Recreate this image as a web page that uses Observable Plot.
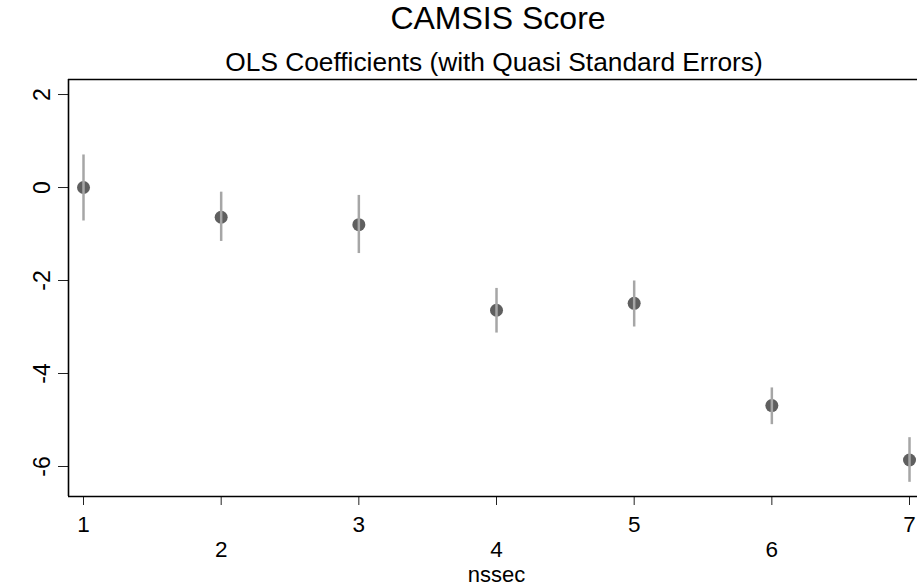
<!DOCTYPE html>
<html><head><meta charset="utf-8">
<script src="https://cdn.jsdelivr.net/npm/d3@7"></script>
<script src="https://cdn.jsdelivr.net/npm/@observablehq/plot@0.6"></script>
<style>
html,body{margin:0;padding:0;background:#fff;overflow:hidden}
#wrap{position:relative;width:917px;height:585px;font-family:"Liberation Sans",Arial,sans-serif}
#wrap svg{position:absolute;left:0;top:0}
.t{position:absolute;white-space:nowrap;transform:translateX(-50%);color:#000;line-height:1;font-family:"Liberation Sans",Arial,sans-serif}
</style></head><body>
<div id="wrap"></div>
<script>
const title = "CAMSIS Score";
const subtitle = "OLS Coefficients (with Quasi Standard Errors)";
const xLabel = "nssec";
const nssec = [1, 2, 3, 4, 5, 6, 7];
const coef = [0, -0.64, -0.80, -2.64, -2.49, -4.69, -5.86];
const ciLow = [-0.72, -1.16, -1.42, -3.13, -3.00, -5.10, -6.34];
const ciHigh = [0.70, -0.10, -0.17, -2.17, -2.01, -4.31, -5.38];
const yTicks = [-6, -4, -2, 0, 2];
const xTicksOdd = [1, 3, 5, 7];
const xTicksEven = [2, 4, 6];
const xTicks = [1, 2, 3, 4, 5, 6, 7];

const data = nssec.map((k, i) => ({nssec: k, coef: coef[i], lo: ciLow[i], hi: ciHigh[i]}));
const xDomain = [0.891, 7.058];
const yDomain = [-6.645, 2.323];
const fs = 22.5;

const chart = Plot.plot({
  width: 917,
  height: 585,
  marginLeft: 68,
  marginRight: 0,
  marginTop: 79,
  marginBottom: 89,
  style: {fontFamily: '"Liberation Sans", Arial, sans-serif', background: "transparent", overflow: "visible"},
  x: {domain: xDomain},
  y: {domain: yDomain},
  marks: [
    Plot.axisY({ticks: yTicks, tickSize: 10, tickFormat: () => "", label: null, stroke: "#222"}),
    Plot.axisX({ticks: xTicks, tickSize: 9, tickFormat: () => "", label: null, stroke: "#222"}),
    Plot.text(yTicks, {frameAnchor: "left", y: d => d, text: d => String(d), rotate: -90, dx: -19,
      textAnchor: "middle", lineAnchor: "bottom", fontSize: 23, fill: "#000"}),
    Plot.text(xTicksOdd, {frameAnchor: "bottom", x: d => d, text: d => String(d), dy: 35,
      textAnchor: "middle", lineAnchor: "bottom", fontSize: fs, fill: "#000"}),
    Plot.text(xTicksEven, {frameAnchor: "bottom", x: d => d, text: d => String(d), dy: 60,
      textAnchor: "middle", lineAnchor: "bottom", fontSize: fs, fill: "#000"}),
    Plot.text([xLabel], {frameAnchor: "bottom", x: () => 4, text: d => d, dy: 85,
      textAnchor: "middle", lineAnchor: "bottom", fontSize: 22, fill: "#000"}),
    Plot.ruleX([xDomain[0]], {stroke: "#000", strokeWidth: 1.6}),
    Plot.ruleY([yDomain[0], yDomain[1]], {stroke: "#000", strokeWidth: 1.6}),
    Plot.dot(data, {x: "nssec", y: "coef", r: 6.5, fill: "#5f5f5f", stroke: "none"}),
    Plot.ruleX(data, {x: "nssec", y1: "lo", y2: "hi", stroke: "#a6a6a6", strokeWidth: 2.5})
  ]
});
const wrap = document.getElementById("wrap");
wrap.appendChild(chart);
function addText(txt, cx, top, size) {
  const d = document.createElement("div");
  d.className = "t";
  d.textContent = txt;
  d.style.left = cx + "px";
  d.style.top = top + "px";
  d.style.fontSize = size + "px";
  wrap.appendChild(d);
}
addText(title, 498, 2, 32);
addText(subtitle, 494, 49, 26.3);
</script>
</body></html>
